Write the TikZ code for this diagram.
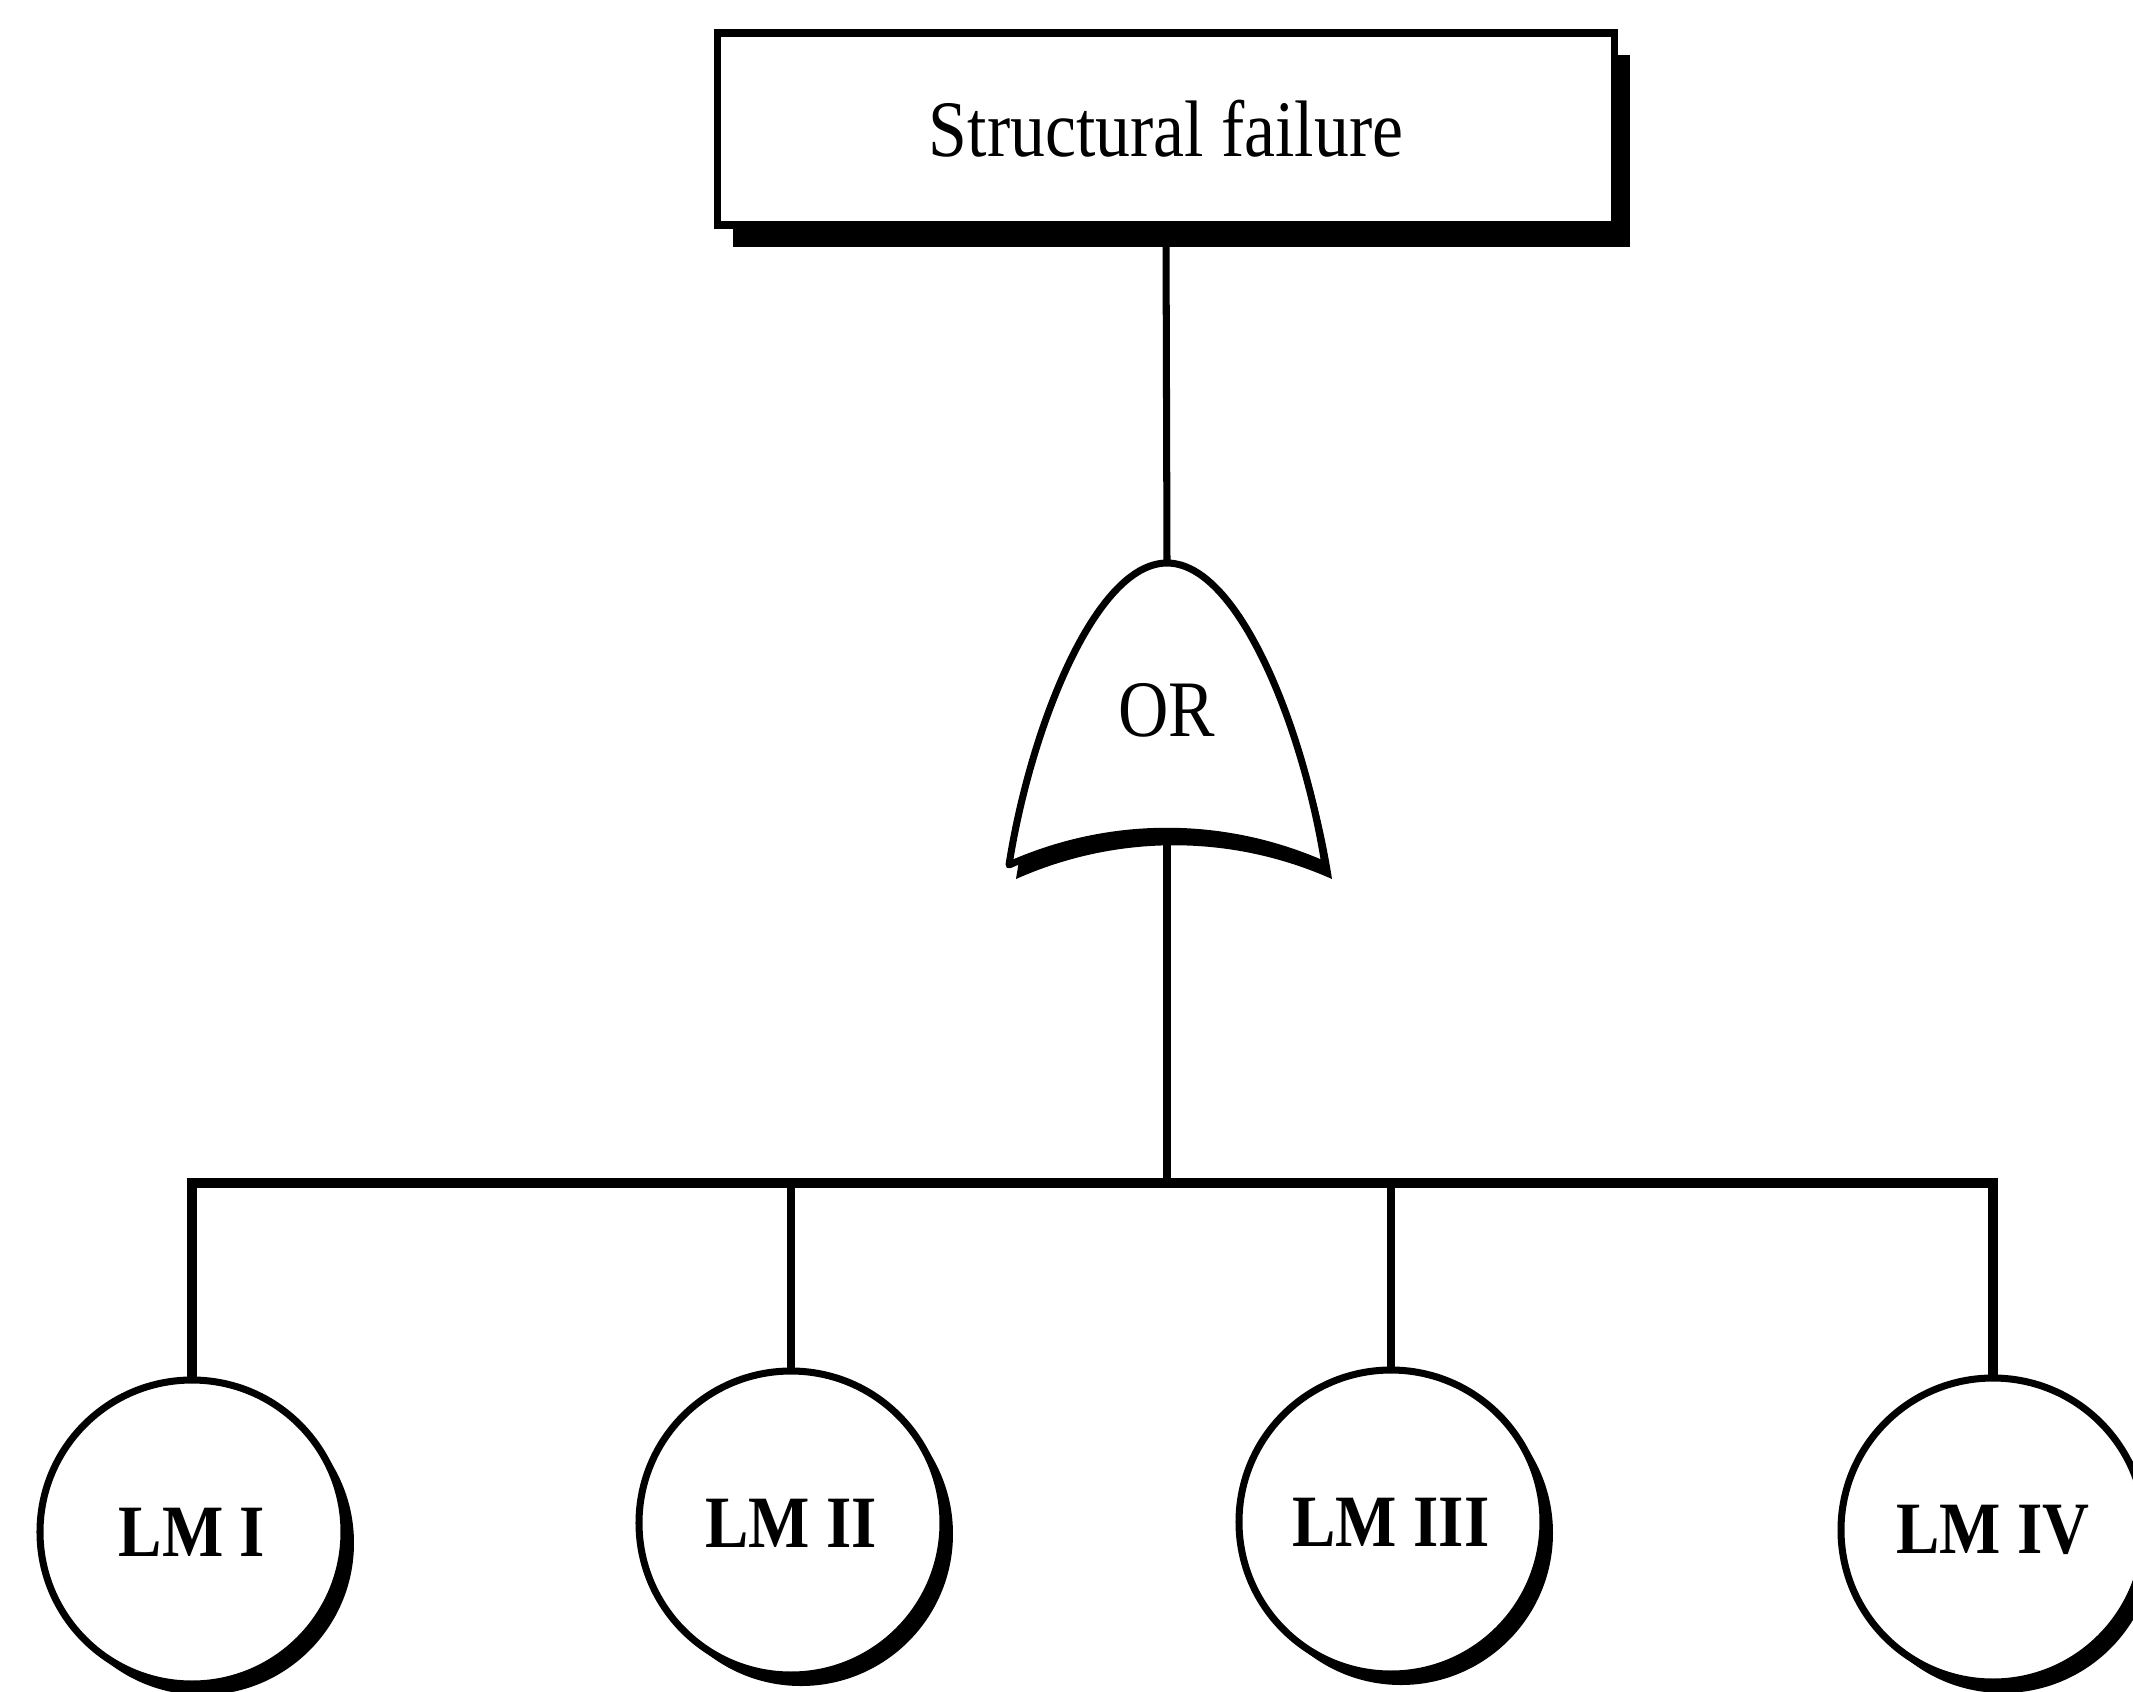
\documentclass[tikz,border=0pt]{standalone}
\usepackage{fontspec}
\setmainfont{Liberation Serif}
\usetikzlibrary{shadows}
\begin{document}
\begin{tikzpicture}[x=0.1mm,y=-0.1mm,
  wire/.style={line width=2pt},
  busline/.style={line width=2.6pt},
  eventbox/.style={draw,line width=2.2pt,fill=white,inner sep=0pt,
    minimum width=89.7mm,minimum height=19.2mm,
    general shadow={fill=black,shadow xshift=1.5mm,shadow yshift=-2.2mm}},
  basic/.style={circle,draw,line width=2pt,fill=white,inner sep=0pt,
    minimum size=30.4mm,
    general shadow={fill=black,shadow xshift=1.0mm,shadow yshift=-1.1mm}},
  toptext/.style={font=\fontsize{22.8}{26}\selectfont},
  lmtext/.style={font=\bfseries\fontsize{21}{24}\selectfont}]
\useasboundingbox (0,0) rectangle (2133,1692);
\clip (0,0) rectangle (2133,1692);
\fill[white] (0,0) rectangle (2133,1692);

% top event
\node[eventbox,toptext] (top) at (1166,129) {\scalebox{0.87}[1]{Structural failure}};

% OR gate: shadow first, then the outlined body
\coordinate (gtop) at (1167,563);
\coordinate (gbot) at (1167,833);
\fill[black,shift={(7,14)}] (1009,865) .. controls (1030,730) and (1095,563) .. (1167,563)
  .. controls (1239,563) and (1304,730) .. (1325,865)
  .. controls (1224,820) and (1110,820) .. cycle;
\draw[line width=2pt,fill=white,line join=round] (1009,865) .. controls (1030,730) and (1095,563) .. (1167,563)
  .. controls (1239,563) and (1304,730) .. (1325,865)
  .. controls (1224,820) and (1110,820) .. cycle;
\node[toptext,inner sep=0pt] (orgate) at (1167,710) {\scalebox{0.87}[1]{OR}};

% basic events
\node[basic,lmtext] (c1) at (192,1532) {\scalebox{0.88}[1]{LM I}};
\node[basic,lmtext] (c2) at (791,1523) {\scalebox{0.88}[1]{LM II}};
\node[basic,lmtext] (c3) at (1391,1522) {\scalebox{0.88}[1]{LM III}};
\node[basic,lmtext] (c4) at (1993,1530) {\scalebox{0.88}[1]{LM IV}};

% connectors
\coordinate (bar) at (1167,1183);
\draw[wire] (top.south) -- (gtop);
\draw[wire] (gbot) -- (bar);
\draw[busline,line join=miter] (c1.north) -- (c1.north |- bar) -- (c4.north |- bar) -- (c4.north);
\draw[wire] (c2.north) -- (c2.north |- bar);
\draw[wire] (c3.north) -- (c3.north |- bar);
\end{tikzpicture}
\end{document}
